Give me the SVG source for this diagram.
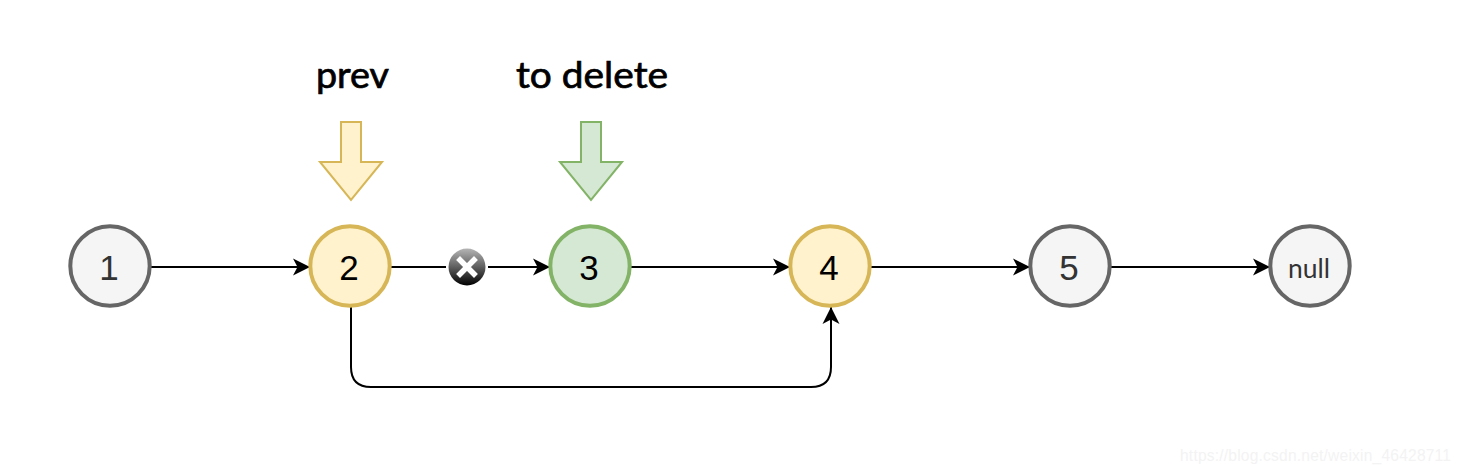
<svg xmlns="http://www.w3.org/2000/svg" width="1458" height="474" viewBox="0 0 1458 474">
  <style>
    .node { stroke-width: 4; }
    .gray { fill: #f5f5f5; stroke: #666666; }
    .yellow { fill: #fff2cc; stroke: #d6b656; }
    .green { fill: #d5e8d4; stroke: #82b366; }
    .num { font-family: "Liberation Sans", Arial, sans-serif; font-size: 35px; text-anchor: middle; fill: #000000; }
    .num.soft { fill: #333333; }
    .tag { font-family: "Lato", "Noto Sans", sans-serif; font-size: 36px; fill: #000000; stroke: #000000; stroke-width: 0.7; }
    .link { fill: none; stroke: #000000; stroke-width: 2; }
    .pointer { stroke-width: 2; }
  </style>
  <defs>
    <marker id="head" markerUnits="userSpaceOnUse" markerWidth="20" markerHeight="20" refX="18" refY="10" orient="auto">
      <path d="M1 1.5 L18 10 L1 18.5 L5.5 10 Z" fill="#000000"/>
    </marker>
    <linearGradient id="badge" x1="0" y1="0" x2="0" y2="1">
      <stop offset="0" stop-color="#b5b5b5"/>
      <stop offset="0.5" stop-color="#5f5f5f"/>
      <stop offset="1" stop-color="#000000"/>
    </linearGradient>
  </defs>
  <rect width="1458" height="474" fill="#ffffff"/>

  <g id="connectors">
    <path class="link" d="M150 267 H310" marker-end="url(#head)"/>
    <path class="link" d="M391 267 H446"/>
    <path class="link" d="M488 267 H550" marker-end="url(#head)"/>
    <path class="link" d="M631 267 H790" marker-end="url(#head)"/>
    <path class="link" d="M871 267 H1030" marker-end="url(#head)"/>
    <path class="link" d="M1111 267 H1270" marker-end="url(#head)"/>
    <path class="link" d="M351 306 V367 Q351 387 371 387 H811 Q831 387 831 367 V307" marker-end="url(#head)"/>
  </g>

  <g id="node-1"><circle class="node gray" cx="110" cy="266" r="39.7"/><text class="num soft" x="109" y="280">1</text></g>
  <g id="node-2"><circle class="node yellow" cx="350" cy="266" r="39.7"/><text class="num" x="349" y="280">2</text></g>
  <g id="node-3"><circle class="node green" cx="590" cy="266" r="39.7"/><text class="num" x="589" y="280">3</text></g>
  <g id="node-4"><circle class="node yellow" cx="830" cy="266" r="39.7"/><text class="num" x="829" y="280">4</text></g>
  <g id="node-5"><circle class="node gray" cx="1070" cy="266" r="39.7"/><text class="num soft" x="1069" y="280">5</text></g>
  <g id="node-null"><circle class="node gray" cx="1310" cy="266" r="39.7"/><text x="1309" y="278" font-family="Lato, 'Noto Sans', sans-serif" font-size="27" text-anchor="middle" fill="#333333" textLength="42" lengthAdjust="spacingAndGlyphs">null</text></g>

  <g id="broken-link-mark">
    <circle cx="467" cy="267" r="18.5" fill="url(#badge)"/>
    <path d="M460 260 L474 274 M474 260 L460 274" stroke="#ffffff" stroke-width="5.5" stroke-linecap="square" fill="none"/>
  </g>

  <g id="prev-pointer">
    <path class="pointer yellow" d="M341 122 H361 V162 H382 L351 200 L320 162 H341 Z"/>
    <text class="tag" x="316" y="88" textLength="73" lengthAdjust="spacingAndGlyphs">prev</text>
  </g>
  <g id="delete-pointer">
    <path class="pointer green" d="M581 122 H601 V162 H622 L591 200 L560 162 H581 Z"/>
    <text class="tag" x="516" y="88" textLength="152" lengthAdjust="spacingAndGlyphs">to delete</text>
  </g>

  <text id="watermark" x="1180" y="461" font-family="'Liberation Sans', Arial, sans-serif" font-size="15.6" fill="#f3f3f3" textLength="271">https://blog.csdn.net/weixin_46428711</text>
</svg>
